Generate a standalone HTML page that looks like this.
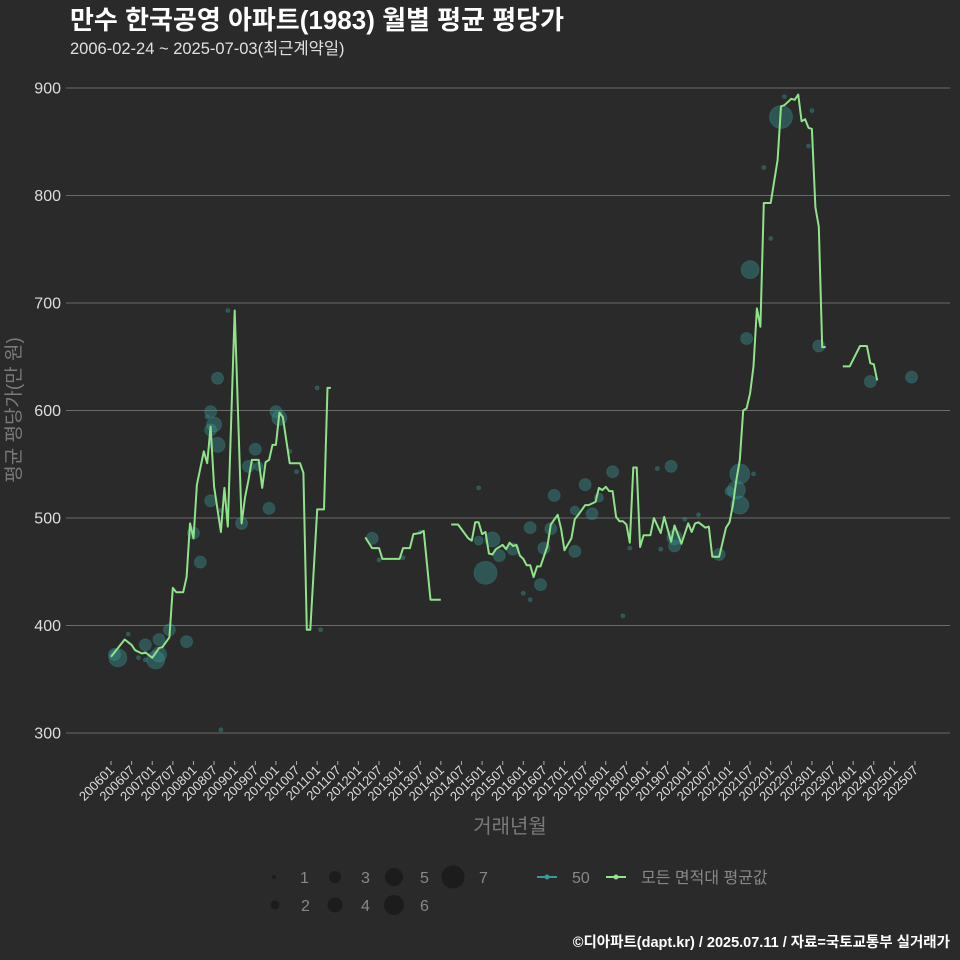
<!DOCTYPE html>
<html><head><meta charset="utf-8"><style>
body{margin:0;background:#2a2a2b;}
svg{display:block;font-family:"Liberation Sans","Noto Sans CJK KR",sans-serif;}
</style></head><body>
<svg id="chart" width="960" height="960" viewBox="0 0 960 960">
<rect width="960" height="960" fill="#2a2a2b"/>
<text x="70" y="29" font-size="26" font-weight="bold" fill="#ffffff">만수 한국공영 아파트(1983) 월별 평균 평당가</text>
<text x="70" y="54" font-size="16.5" fill="#e0e0e0">2006-02-24 ~ 2025-07-03(최근계약일)</text>
<g id="grid"></g>
<g id="xaxis"></g>
<g id="bubbles"></g>
<g id="lines"></g>
<text x="20" y="410" font-size="19" fill="#7a7a7a" text-anchor="middle" transform="rotate(-90 20 410)">평균 평당가(만 원)</text>
<text x="510" y="833" font-size="20" fill="#7a7a7a" text-anchor="middle">거래년월</text>
<g id="legend"></g>
<text x="950" y="947" font-size="14.5" font-weight="bold" fill="#ffffff" text-anchor="end">©디아파트(dapt.kr) / 2025.07.11 / 자료=국토교통부 실거래가</text>
</svg>
<script>
const yTicks=[300,400,500,600,700,800,900];
const xTickLabels=[];
for(let y=2006;y<=2025;y++){xTickLabels.push(y+"01");xTickLabels.push(y+"07");}
// line: month index since 2006-01, value (null = gap)
const lineMonths=[0,4,6,7,9,10,12,14,15,17,18,19,21,22,23,24,25,27,28,29,30,32,33,34,36,38,39,40,41,43,44,45,46,47,48,49,50,52,55,56,57,58,60,62,63,64,null,
74,76,78,79,84,85,87,88,90,91,93,96,null,
99,101,104,105,106,107,108,109,110,111,112,114,115,116,117,118,119,120,121,122,123,124,125,127,128,130,131,132,134,135,136,138,139,141,142,143,144,145,146,147,148,149,150,151,152,153,154,155,157,158,160,161,163,164,166,168,169,170,171,173,174,175,177,179,180,181,182,183,184,185,186,187,188,189,190,192,194,195,196,198,199,200,201,202,203,204,205,206,207,208,null,
211,213,215,218,220,221,222,223,null,231,233];
const lineValues=[371,387,382,377,374,375,370,379,380,389,435,431,431,445,495,481,531,562,551,585,529,487,528,492,693,495,519,535,554,554,528,552,554,568,568,598,594,551,551,542,396,396,508,508,621,621,null,
482,472,472,462,462,472,472,485,486,488,424,424,null,
494,494,481,479,496,496,485,487,467,466,471,475,471,477,474,475,465,462,456,456,445,455,455,474,494,503,490,470,481,499,503,512,512,515,528,526,529,525,525,501,497,497,494,477,547,547,473,484,484,500,486,501,478,493,476,495,487,495,496,491,492,464,464,491,496,512,535,554,600,602,616,641,695,678,793,793,833,883,884,890,889,894,869,871,863,862,789,771,659,659,659,null,
641,641,660,660,644,643,628,628,null,631,631];
const bubbleMonths=[2,1,5,8,10,10,13,14,14,17,22,24,26,29,28,29,31,30,29,31,32,32,34,38,40,42,43,46,48,49,52,54,60,61,76,78,85,90,107,107,109,111,113,117,122,120,122,125,126,129,128,135,135,140,138,146,142,149,151,160,159,163,164,164,167,171,177,180,183,182,183,187,185,186,192,190,195,196,204,203,206,221,233];
const bubbleValues=[370,373,392,370,382,368,368,373,387,396,385,486,459,516,594,582,568,587,599,630,507,303,693,495,548,564,548,509,599,593,562,543,621,396,481,461,463,487,528,479,449,480,465,471,491,430,424,438,472,521,490,507,469,504,531,543,519,409,472,471,546,548,474,482,499,503,466,525,541,526,512,541,667,731,760,826,873,892,879,846,660,627,631];
const bubbleCounts=[5,3,1,1,3,1,5,4,3,3,3,3,3,3,1,3,4,4,3,3,1,1,1,3,3,3,2,3,3,4,1,1,1,1,3,1,1,1,1,2,7,4,3,3,3,1,1,3,3,3,3,2,3,3,3,3,2,1,1,1,1,3,3,4,1,1,3,2,6,5,5,1,3,5,1,1,7,1,1,1,3,3,3];
const legendSizes=[1,2,3,4,5,6,7];

const NS="http://www.w3.org/2000/svg";
const X0=111, MW=804/234, Y0=733, PV=1.075;
function xScale(m){return X0+m*MW;}
function yScale(v){return Y0-(v-300)*PV;}
function rScale(c){return [0,2,4.5,6,7.5,9,10,11.5][c]||c*1.6;}
function mk(tag,attrs,parent){const e=document.createElementNS(NS,tag);for(const k in attrs)e.setAttribute(k,attrs[k]);parent.appendChild(e);return e;}

const grid=document.getElementById('grid');
yTicks.forEach(v=>{
  const y=yScale(v);
  const l=mk('line',{x1:66,x2:950,y1:y,y2:y,stroke:'#6a6a6a','stroke-width':1},grid);
  
  
  const t=mk('text',{x:61,y:y+5.5,'font-size':16,fill:'#dddddd','text-anchor':'end'},grid);
  t.textContent=v;
  
  
});
const xa=document.getElementById('xaxis');
xTickLabels.forEach((lab,i)=>{
  const x=xScale(i*6);
  const tk=mk('line',{x1:x,x2:x,y1:761,y2:765,stroke:'#aaaaaa','stroke-width':1},xa);
  
  
  const t=mk('text',{x:x+4,y:771,'font-size':13,fill:'#dddddd','text-anchor':'end',transform:`rotate(-45 ${x+4} 771)`},xa);
  t.textContent=lab;
  
  
});
const bg=document.getElementById('bubbles');
bubbleMonths.forEach((m,i)=>{
  const c=mk('circle',{cx:xScale(m),cy:yScale(bubbleValues[i]),r:rScale(bubbleCounts[i]),fill:'#3a9a9a','fill-opacity':0.38,stroke:'#3a9a9a','stroke-opacity':0.25},bg);
  
  
});
const lg=document.getElementById('lines');
let seg=[];
function flush(){
  if(seg.length){
    const p=mk('polyline',{points:seg.join(' '),fill:'none',stroke:'#8fe388','stroke-width':2,'stroke-linejoin':'round'},lg);
    
    
  }
  seg=[];
}
lineMonths.forEach((m,i)=>{
  if(m===null||lineValues[i]===null){flush();return;}
  seg.push(xScale(m).toFixed(1)+','+yScale(lineValues[i]).toFixed(1));
});
flush();
const leg=document.getElementById('legend');
const lpos=[[274,877],[275,905],[335,877],[335,905],[394,877],[394,905],[453,877]];
legendSizes.forEach((s,i)=>{
  const [x,y]=lpos[i];
  const c=mk('circle',{cx:x,cy:y,r:rScale(s),fill:'#1c1c1d'},leg);
  
  
  const t=mk('text',{x:x+26,y:y+6,'font-size':16,fill:'#888888'},leg);
  t.textContent=s;
  
  
});
[[537,'#3a9a9a','50'],[606,'#8fe388','모든 면적대 평균값']].forEach(([x,col,lab])=>{
  const l=mk('line',{x1:x,x2:x+20,y1:877,y2:877,stroke:col,'stroke-width':2},leg);
  
  
  const c=mk('circle',{cx:x+10,cy:877,r:2.5,fill:col},leg);
  
  
  const t=mk('text',{x:x+35,y:883,'font-size':16,fill:'#888888'},leg);
  t.textContent=lab;
  
  
});
</script>
</body></html>
